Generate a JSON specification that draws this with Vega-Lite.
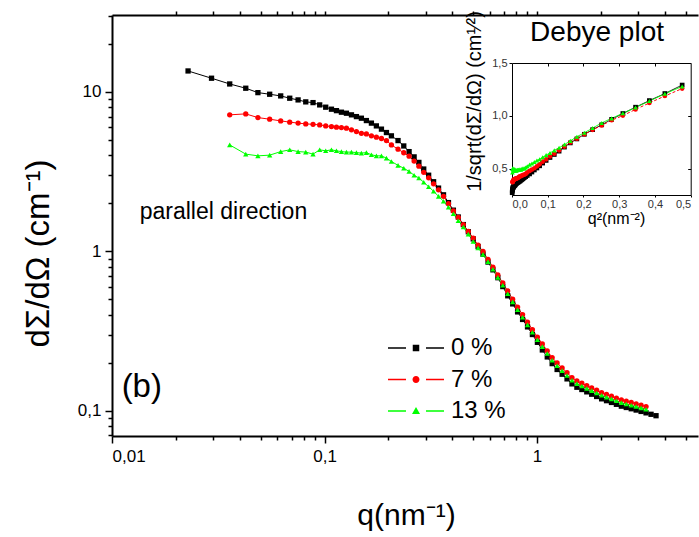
{
"$schema": "https://vega.github.io/schema/vega-lite/v6.json",
"width": 586, "height": 421,
"autosize": "none",
"padding": {"left": 112, "top": 15, "right": 1, "bottom": 101},
"background": "white",
"config": {"view": {"stroke": null}, "font": "Liberation Sans",
 "axis": {"grid": false, "domainColor": "black", "tickColor": "black", "labelColor": "black", "titleColor": "black", "labelFont": "Liberation Sans", "titleFont": "Liberation Sans", "titleFontWeight": "normal"},
 "legend": {"labelFont": "Liberation Sans", "orient": "none", "title": null, "labelFontSize": 24, "labelColor": "black", "labelOffset": 23, "symbolSize": 100, "symbolStrokeWidth": 0, "padding": 0}},
"datasets": {
"main": [
{"c":"0 %","q":0.0228,"I":13.54},{"c":"0 %","q":0.0294,"I":12.19},{"c":"0 %","q":0.0358,"I":11.22},{"c":"0 %","q":0.0426,"I":10.55},{"c":"0 %","q":0.0486,"I":9.9},{"c":"0 %","q":0.0552,"I":9.67},{"c":"0 %","q":0.0622,"I":9.44},{"c":"0 %","q":0.0686,"I":9.13},{"c":"0 %","q":0.0751,"I":8.91},{"c":"0 %","q":0.0816,"I":8.66},{"c":"0 %","q":0.0883,"I":8.57},{"c":"0 %","q":0.0949,"I":8.29},{"c":"0 %","q":0.1013,"I":8.02},{"c":"0 %","q":0.1078,"I":7.79},{"c":"0 %","q":0.1138,"I":7.63},{"c":"0 %","q":0.1201,"I":7.46},{"c":"0 %","q":0.1268,"I":7.35},{"c":"0 %","q":0.1339,"I":7.18},{"c":"0 %","q":0.1413,"I":7.0},{"c":"0 %","q":0.1491,"I":6.84},{"c":"0 %","q":0.1574,"I":6.61},{"c":"0 %","q":0.1662,"I":6.37},{"c":"0 %","q":0.1754,"I":6.12},{"c":"0 %","q":0.1853,"I":5.84},{"c":"0 %","q":0.1956,"I":5.56},{"c":"0 %","q":0.2064,"I":5.3},{"c":"0 %","q":0.2218,"I":4.95},{"c":"0 %","q":0.236,"I":4.58},{"c":"0 %","q":0.25,"I":4.22},{"c":"0 %","q":0.264,"I":3.91},{"c":"0 %","q":0.278,"I":3.61},{"c":"0 %","q":0.293,"I":3.28},{"c":"0 %","q":0.309,"I":3.0},{"c":"0 %","q":0.326,"I":2.73},{"c":"0 %","q":0.344,"I":2.49},{"c":"0 %","q":0.363,"I":2.26},{"c":"0 %","q":0.383,"I":2.02},{"c":"0 %","q":0.404,"I":1.81},{"c":"0 %","q":0.426,"I":1.64},{"c":"0 %","q":0.45,"I":1.47},{"c":"0 %","q":0.475,"I":1.325},{"c":"0 %","q":0.501,"I":1.195},{"c":"0 %","q":0.528,"I":1.07},{"c":"0 %","q":0.557,"I":0.958},{"c":"0 %","q":0.588,"I":0.855},{"c":"0 %","q":0.62,"I":0.764},{"c":"0 %","q":0.654,"I":0.682},{"c":"0 %","q":0.69,"I":0.6},{"c":"0 %","q":0.728,"I":0.525},{"c":"0 %","q":0.768,"I":0.467},{"c":"0 %","q":0.81,"I":0.416},{"c":"0 %","q":0.855,"I":0.373},{"c":"0 %","q":0.902,"I":0.335},{"c":"0 %","q":0.951,"I":0.3},{"c":"0 %","q":1.004,"I":0.268},{"c":"0 %","q":1.059,"I":0.24},{"c":"0 %","q":1.117,"I":0.217},{"c":"0 %","q":1.178,"I":0.197},{"c":"0 %","q":1.243,"I":0.181},{"c":"0 %","q":1.312,"I":0.169},{"c":"0 %","q":1.384,"I":0.158},{"c":"0 %","q":1.46,"I":0.147},{"c":"0 %","q":1.54,"I":0.14},{"c":"0 %","q":1.625,"I":0.1355},{"c":"0 %","q":1.714,"I":0.131},{"c":"0 %","q":1.808,"I":0.1266},{"c":"0 %","q":1.908,"I":0.1225},{"c":"0 %","q":2.013,"I":0.1184},{"c":"0 %","q":2.123,"I":0.1153},{"c":"0 %","q":2.24,"I":0.1124},{"c":"0 %","q":2.363,"I":0.1094},{"c":"0 %","q":2.493,"I":0.1065},{"c":"0 %","q":2.63,"I":0.1045},{"c":"0 %","q":2.775,"I":0.1026},{"c":"0 %","q":2.927,"I":0.1007},{"c":"0 %","q":3.088,"I":0.0987},{"c":"0 %","q":3.258,"I":0.0967},{"c":"0 %","q":3.44,"I":0.0947},{"c":"0 %","q":3.63,"I":0.0928},
{"c":"7 %","q":0.0358,"I":7.18},{"c":"7 %","q":0.0426,"I":7.28},{"c":"7 %","q":0.0486,"I":6.9},{"c":"7 %","q":0.0552,"I":6.74},{"c":"7 %","q":0.0622,"I":6.58},{"c":"7 %","q":0.0686,"I":6.46},{"c":"7 %","q":0.0751,"I":6.37},{"c":"7 %","q":0.0816,"I":6.3},{"c":"7 %","q":0.0883,"I":6.26},{"c":"7 %","q":0.0949,"I":6.21},{"c":"7 %","q":0.1013,"I":6.12},{"c":"7 %","q":0.1078,"I":6.06},{"c":"7 %","q":0.1138,"I":6.01},{"c":"7 %","q":0.1201,"I":5.97},{"c":"7 %","q":0.1268,"I":5.92},{"c":"7 %","q":0.1339,"I":5.78},{"c":"7 %","q":0.1413,"I":5.64},{"c":"7 %","q":0.1491,"I":5.5},{"c":"7 %","q":0.1574,"I":5.45},{"c":"7 %","q":0.1662,"I":5.3},{"c":"7 %","q":0.1754,"I":5.2},{"c":"7 %","q":0.1853,"I":5.1},{"c":"7 %","q":0.1956,"I":4.95},{"c":"7 %","q":0.2064,"I":4.65},{"c":"7 %","q":0.2218,"I":4.37},{"c":"7 %","q":0.236,"I":4.15},{"c":"7 %","q":0.25,"I":3.95},{"c":"7 %","q":0.264,"I":3.68},{"c":"7 %","q":0.278,"I":3.42},{"c":"7 %","q":0.293,"I":3.13},{"c":"7 %","q":0.309,"I":2.89},{"c":"7 %","q":0.326,"I":2.65},{"c":"7 %","q":0.344,"I":2.43},{"c":"7 %","q":0.363,"I":2.21},{"c":"7 %","q":0.383,"I":1.99},{"c":"7 %","q":0.404,"I":1.79},{"c":"7 %","q":0.426,"I":1.63},{"c":"7 %","q":0.45,"I":1.47},{"c":"7 %","q":0.475,"I":1.33},{"c":"7 %","q":0.501,"I":1.21},{"c":"7 %","q":0.528,"I":1.09},{"c":"7 %","q":0.557,"I":0.996},{"c":"7 %","q":0.588,"I":0.889},{"c":"7 %","q":0.62,"I":0.795},{"c":"7 %","q":0.654,"I":0.709},{"c":"7 %","q":0.69,"I":0.632},{"c":"7 %","q":0.728,"I":0.563},{"c":"7 %","q":0.768,"I":0.5},{"c":"7 %","q":0.81,"I":0.446},{"c":"7 %","q":0.855,"I":0.4},{"c":"7 %","q":0.902,"I":0.359},{"c":"7 %","q":0.951,"I":0.322},{"c":"7 %","q":1.004,"I":0.289},{"c":"7 %","q":1.059,"I":0.262},{"c":"7 %","q":1.117,"I":0.237},{"c":"7 %","q":1.178,"I":0.215},{"c":"7 %","q":1.243,"I":0.199},{"c":"7 %","q":1.312,"I":0.185},{"c":"7 %","q":1.384,"I":0.173},{"c":"7 %","q":1.46,"I":0.161},{"c":"7 %","q":1.54,"I":0.1534},{"c":"7 %","q":1.625,"I":0.1483},{"c":"7 %","q":1.714,"I":0.1433},{"c":"7 %","q":1.808,"I":0.1386},{"c":"7 %","q":1.908,"I":0.1341},{"c":"7 %","q":2.013,"I":0.1296},{"c":"7 %","q":2.123,"I":0.1263},{"c":"7 %","q":2.24,"I":0.123},{"c":"7 %","q":2.363,"I":0.1198},{"c":"7 %","q":2.493,"I":0.1166},{"c":"7 %","q":2.63,"I":0.1144},{"c":"7 %","q":2.775,"I":0.1123},{"c":"7 %","q":2.927,"I":0.1102},{"c":"7 %","q":3.088,"I":0.1081},{"c":"7 %","q":3.258,"I":0.1059},
{"c":"13 %","q":0.0358,"I":4.65},{"c":"13 %","q":0.0426,"I":4.07},{"c":"13 %","q":0.0486,"I":3.97},{"c":"13 %","q":0.0552,"I":4.01},{"c":"13 %","q":0.0622,"I":4.22},{"c":"13 %","q":0.0686,"I":4.33},{"c":"13 %","q":0.0751,"I":4.22},{"c":"13 %","q":0.0816,"I":4.19},{"c":"13 %","q":0.0883,"I":4.07},{"c":"13 %","q":0.0949,"I":4.33},{"c":"13 %","q":0.1013,"I":4.27},{"c":"13 %","q":0.1078,"I":4.33},{"c":"13 %","q":0.1138,"I":4.27},{"c":"13 %","q":0.1201,"I":4.22},{"c":"13 %","q":0.1268,"I":4.19},{"c":"13 %","q":0.1339,"I":4.19},{"c":"13 %","q":0.1413,"I":4.16},{"c":"13 %","q":0.1491,"I":4.13},{"c":"13 %","q":0.1574,"I":4.16},{"c":"13 %","q":0.1662,"I":4.03},{"c":"13 %","q":0.1754,"I":3.97},{"c":"13 %","q":0.1853,"I":3.97},{"c":"13 %","q":0.1956,"I":3.84},{"c":"13 %","q":0.2064,"I":3.66},{"c":"13 %","q":0.2218,"I":3.46},{"c":"13 %","q":0.236,"I":3.32},{"c":"13 %","q":0.25,"I":3.17},{"c":"13 %","q":0.264,"I":3.0},{"c":"13 %","q":0.278,"I":2.88},{"c":"13 %","q":0.293,"I":2.71},{"c":"13 %","q":0.309,"I":2.54},{"c":"13 %","q":0.326,"I":2.38},{"c":"13 %","q":0.344,"I":2.21},{"c":"13 %","q":0.363,"I":2.06},{"c":"13 %","q":0.383,"I":1.89},{"c":"13 %","q":0.404,"I":1.72},{"c":"13 %","q":0.426,"I":1.555},{"c":"13 %","q":0.45,"I":1.42},{"c":"13 %","q":0.475,"I":1.28},{"c":"13 %","q":0.501,"I":1.15},{"c":"13 %","q":0.528,"I":1.05},{"c":"13 %","q":0.557,"I":0.955},{"c":"13 %","q":0.588,"I":0.86},{"c":"13 %","q":0.62,"I":0.77},{"c":"13 %","q":0.654,"I":0.685},{"c":"13 %","q":0.69,"I":0.612},{"c":"13 %","q":0.728,"I":0.541},{"c":"13 %","q":0.768,"I":0.481},{"c":"13 %","q":0.81,"I":0.429},{"c":"13 %","q":0.855,"I":0.385},{"c":"13 %","q":0.902,"I":0.345},{"c":"13 %","q":0.951,"I":0.31},{"c":"13 %","q":1.004,"I":0.278},{"c":"13 %","q":1.059,"I":0.252},{"c":"13 %","q":1.117,"I":0.228},{"c":"13 %","q":1.178,"I":0.207},{"c":"13 %","q":1.243,"I":0.191},{"c":"13 %","q":1.312,"I":0.178},{"c":"13 %","q":1.384,"I":0.166},{"c":"13 %","q":1.46,"I":0.155},{"c":"13 %","q":1.54,"I":0.1475},{"c":"13 %","q":1.625,"I":0.1426},{"c":"13 %","q":1.714,"I":0.1378},{"c":"13 %","q":1.808,"I":0.1333},{"c":"13 %","q":1.908,"I":0.1289},{"c":"13 %","q":2.013,"I":0.1246},{"c":"13 %","q":2.123,"I":0.1214},{"c":"13 %","q":2.24,"I":0.1183},{"c":"13 %","q":2.363,"I":0.1152},{"c":"13 %","q":2.493,"I":0.1121},{"c":"13 %","q":2.63,"I":0.11},{"c":"13 %","q":2.775,"I":0.108},{"c":"13 %","q":2.927,"I":0.106},{"c":"13 %","q":3.088,"I":0.1039},{"c":"13 %","q":3.258,"I":0.1018}
],
"debye": [
{"c":"0 %","x":0.00052,"y":0.2718},{"c":"0 %","x":0.00086,"y":0.2864},{"c":"0 %","x":0.00128,"y":0.2985},{"c":"0 %","x":0.00181,"y":0.3079},{"c":"0 %","x":0.00236,"y":0.3178},{"c":"0 %","x":0.00305,"y":0.3216},{"c":"0 %","x":0.00387,"y":0.3255},{"c":"0 %","x":0.00471,"y":0.3309},{"c":"0 %","x":0.00564,"y":0.335},{"c":"0 %","x":0.00666,"y":0.3398},{"c":"0 %","x":0.0078,"y":0.3416},{"c":"0 %","x":0.009,"y":0.3473},{"c":"0 %","x":0.01026,"y":0.3531},{"c":"0 %","x":0.01162,"y":0.3583},{"c":"0 %","x":0.01295,"y":0.362},{"c":"0 %","x":0.01442,"y":0.3661},{"c":"0 %","x":0.01608,"y":0.3689},{"c":"0 %","x":0.01793,"y":0.3732},{"c":"0 %","x":0.01997,"y":0.378},{"c":"0 %","x":0.02223,"y":0.3824},{"c":"0 %","x":0.02477,"y":0.389},{"c":"0 %","x":0.02762,"y":0.3962},{"c":"0 %","x":0.03077,"y":0.4042},{"c":"0 %","x":0.03434,"y":0.4138},{"c":"0 %","x":0.03826,"y":0.4241},{"c":"0 %","x":0.0426,"y":0.4344},{"c":"0 %","x":0.0492,"y":0.4495},{"c":"0 %","x":0.0557,"y":0.4673},{"c":"0 %","x":0.0625,"y":0.4868},{"c":"0 %","x":0.0697,"y":0.5057},{"c":"0 %","x":0.0773,"y":0.5263},{"c":"0 %","x":0.0858,"y":0.5522},{"c":"0 %","x":0.0955,"y":0.5774},{"c":"0 %","x":0.1063,"y":0.6052},{"c":"0 %","x":0.1183,"y":0.6337},{"c":"0 %","x":0.1318,"y":0.6652},{"c":"0 %","x":0.1467,"y":0.7036},{"c":"0 %","x":0.1632,"y":0.7433},{"c":"0 %","x":0.1815,"y":0.7809},{"c":"0 %","x":0.2025,"y":0.8248},{"c":"0 %","x":0.2256,"y":0.8687},{"c":"0 %","x":0.251,"y":0.9148},{"c":"0 %","x":0.2788,"y":0.9667},{"c":"0 %","x":0.3102,"y":1.0217},{"c":"0 %","x":0.3457,"y":1.0815},{"c":"0 %","x":0.3844,"y":1.1441},{"c":"0 %","x":0.4277,"y":1.2109},{"c":"0 %","x":0.4761,"y":1.291},
{"c":"7 %","x":0.00128,"y":0.3732},{"c":"7 %","x":0.00181,"y":0.3706},{"c":"7 %","x":0.00236,"y":0.3807},{"c":"7 %","x":0.00305,"y":0.3852},{"c":"7 %","x":0.00387,"y":0.3898},{"c":"7 %","x":0.00471,"y":0.3934},{"c":"7 %","x":0.00564,"y":0.3962},{"c":"7 %","x":0.00666,"y":0.3984},{"c":"7 %","x":0.0078,"y":0.3997},{"c":"7 %","x":0.009,"y":0.4013},{"c":"7 %","x":0.01026,"y":0.4042},{"c":"7 %","x":0.01162,"y":0.4062},{"c":"7 %","x":0.01295,"y":0.4079},{"c":"7 %","x":0.01442,"y":0.4093},{"c":"7 %","x":0.01608,"y":0.411},{"c":"7 %","x":0.01793,"y":0.4159},{"c":"7 %","x":0.01997,"y":0.4211},{"c":"7 %","x":0.02223,"y":0.4264},{"c":"7 %","x":0.02477,"y":0.4283},{"c":"7 %","x":0.02762,"y":0.4344},{"c":"7 %","x":0.03077,"y":0.4385},{"c":"7 %","x":0.03434,"y":0.4428},{"c":"7 %","x":0.03826,"y":0.4495},{"c":"7 %","x":0.0426,"y":0.4637},{"c":"7 %","x":0.0492,"y":0.4784},{"c":"7 %","x":0.0557,"y":0.4909},{"c":"7 %","x":0.0625,"y":0.5032},{"c":"7 %","x":0.0697,"y":0.5213},{"c":"7 %","x":0.0773,"y":0.5407},{"c":"7 %","x":0.0858,"y":0.5652},{"c":"7 %","x":0.0955,"y":0.5882},{"c":"7 %","x":0.1063,"y":0.6143},{"c":"7 %","x":0.1183,"y":0.6415},{"c":"7 %","x":0.1318,"y":0.6727},{"c":"7 %","x":0.1467,"y":0.7089},{"c":"7 %","x":0.1632,"y":0.7474},{"c":"7 %","x":0.1815,"y":0.7833},{"c":"7 %","x":0.2025,"y":0.8248},{"c":"7 %","x":0.2256,"y":0.8671},{"c":"7 %","x":0.251,"y":0.9091},{"c":"7 %","x":0.2788,"y":0.9578},{"c":"7 %","x":0.3102,"y":1.002},{"c":"7 %","x":0.3457,"y":1.0606},{"c":"7 %","x":0.3844,"y":1.1215},{"c":"7 %","x":0.4277,"y":1.1876},{"c":"7 %","x":0.4761,"y":1.2579},
{"c":"13 %","x":0.00128,"y":0.4637},{"c":"13 %","x":0.00181,"y":0.4957},{"c":"13 %","x":0.00236,"y":0.5019},{"c":"13 %","x":0.00305,"y":0.4994},{"c":"13 %","x":0.00387,"y":0.4868},{"c":"13 %","x":0.00471,"y":0.4806},{"c":"13 %","x":0.00564,"y":0.4868},{"c":"13 %","x":0.00666,"y":0.4885},{"c":"13 %","x":0.0078,"y":0.4957},{"c":"13 %","x":0.009,"y":0.4806},{"c":"13 %","x":0.01026,"y":0.4839},{"c":"13 %","x":0.01162,"y":0.4806},{"c":"13 %","x":0.01295,"y":0.4839},{"c":"13 %","x":0.01442,"y":0.4868},{"c":"13 %","x":0.01608,"y":0.4885},{"c":"13 %","x":0.01793,"y":0.4885},{"c":"13 %","x":0.01997,"y":0.4903},{"c":"13 %","x":0.02223,"y":0.4921},{"c":"13 %","x":0.02477,"y":0.4903},{"c":"13 %","x":0.02762,"y":0.4981},{"c":"13 %","x":0.03077,"y":0.5019},{"c":"13 %","x":0.03434,"y":0.5019},{"c":"13 %","x":0.03826,"y":0.5103},{"c":"13 %","x":0.0426,"y":0.5227},{"c":"13 %","x":0.0492,"y":0.5376},{"c":"13 %","x":0.0557,"y":0.5488},{"c":"13 %","x":0.0625,"y":0.5617},{"c":"13 %","x":0.0697,"y":0.5774},{"c":"13 %","x":0.0773,"y":0.5893},{"c":"13 %","x":0.0858,"y":0.6075},{"c":"13 %","x":0.0955,"y":0.6275},{"c":"13 %","x":0.1063,"y":0.6482},{"c":"13 %","x":0.1183,"y":0.6727},{"c":"13 %","x":0.1318,"y":0.6967},{"c":"13 %","x":0.1467,"y":0.7274},{"c":"13 %","x":0.1632,"y":0.7625},{"c":"13 %","x":0.1815,"y":0.8019},{"c":"13 %","x":0.2025,"y":0.8392},{"c":"13 %","x":0.2256,"y":0.8839},{"c":"13 %","x":0.251,"y":0.9325},{"c":"13 %","x":0.2788,"y":0.9759},{"c":"13 %","x":0.3102,"y":1.0233},{"c":"13 %","x":0.3457,"y":1.0783},{"c":"13 %","x":0.3844,"y":1.1396},{"c":"13 %","x":0.4277,"y":1.2082},{"c":"13 %","x":0.4761,"y":1.2783}
]
},
"layer": [
{
 "data": {"name": "main"},
 "layer": [
  {"mark": {"type": "line", "strokeWidth": 1},
   "encoding": {
    "x": {"field": "q", "type": "quantitative", "scale": {"type": "log", "domain": [0.01, 5.72], "nice": false},
      "axis": {"orient": "bottom", "values": [0.01, 0.1, 1], "labelExpr": "replace(toString(datum.value), '.', ',')", "tickSize": 7, "tickWidth": 1.5, "domainWidth": 2, "labelFontSize": 17, "labelPadding": 5, "title": "q(nm⁻¹)", "titleFontSize": 30, "titleX": 294, "titleY": 79, "titleBaseline": "middle", "titleAlign": "center"}},
    "y": {"field": "I", "type": "quantitative", "scale": {"type": "log", "domain": [0.0692, 30.4], "nice": false},
      "axis": {"orient": "left", "values": [0.1, 1, 10], "labelExpr": "replace(toString(datum.value), '.', ',')", "tickSize": 7, "tickWidth": 1.5, "domainWidth": 2, "labelFontSize": 17, "labelPadding": 4, "title": "dΣ/dΩ (cm⁻¹)", "titleFontSize": 33, "titleAngle": -90, "titleX": -74, "titleY": 238, "titleBaseline": "middle", "titleAlign": "center"}},
    "color": {"field": "c", "type": "nominal", "scale": {"domain": ["0 %", "7 %", "13 %"], "range": ["#000000", "#ff0000", "#00ff00"]}, "legend": null}
   }},
  {"mark": {"type": "point", "filled": true, "opacity": 1, "size": 28},
   "encoding": {
    "x": {"field": "q", "type": "quantitative",
      "axis": {"orient": "bottom", "values": [0.02,0.03,0.04,0.05,0.06,0.07,0.08,0.09,0.2,0.3,0.4,0.5,0.6,0.7,0.8,0.9,2,3,4,5], "labels": false, "domain": false, "tickSize": 4, "tickWidth": 1.5, "title": null}},
    "y": {"field": "I", "type": "quantitative",
      "axis": {"orient": "left", "values": [0.07,0.08,0.09,0.2,0.3,0.4,0.5,0.6,0.7,0.8,0.9,2,3,4,5,6,7,8,9,20,30], "labels": false, "domain": false, "tickSize": 4, "tickWidth": 1.5, "title": null}},
    "color": {"field": "c", "type": "nominal", "legend": null},
    "shape": {"field": "c", "type": "nominal", "scale": {"domain": ["0 %", "7 %", "13 %"], "range": ["square", "circle", "triangle-up"]}, "legend": null}
   }},
  {"data": {"values": [{}]},
   "mark": {"type": "text", "text": "parallel direction", "align": "left", "baseline": "middle", "fontSize": 23, "font": "Liberation Sans", "color": "black"},
   "encoding": {
    "x": {"datum": 0.0135, "axis": {"orient": "top", "values": [0.02,0.03,0.04,0.05,0.06,0.07,0.08,0.09,0.1,0.2,0.3,0.4,0.5,0.6,0.7,0.8,0.9,1,2,3,4,5], "labels": false, "tickSize": 4, "tickWidth": 1.5, "domainWidth": 2, "title": null}},
    "y": {"datum": 1.77, "axis": null}
   }},
  {"data": {"values": [{}]},
   "mark": {"type": "text", "text": "(b)", "align": "left", "baseline": "middle", "fontSize": 33, "font": "Liberation Sans", "color": "black"},
   "encoding": {
    "x": {"datum": 0.0111, "axis": null},
    "y": {"datum": 0.1414, "axis": null}
   }}
 ],
 "resolve": {"axis": {"x": "independent", "y": "independent"}}
},
{
 "data": {"name": "debye"},
 "layer": [
  {"mark": {"type": "line", "strokeWidth": 1},
   "encoding": {
    "x": {"field": "x", "type": "quantitative", "scale": {"domain": [0, 0.5], "range": [400, 578.7], "nice": false, "zero": false},
      "axis": {"orient": "bottom", "offset": -241, "values": [0, 0.1, 0.2, 0.3, 0.4, 0.5], "labelExpr": "replace(format(datum.value, '.1f'), '.', ',')", "tickSize": 2, "tickWidth": 1, "domainWidth": 1, "labelFontSize": 11, "labelColor": "#333333", "labelPadding": 1, "title": "q²(nm⁻²)", "titleFontSize": 16, "titleX": 504, "titleY": 23, "titleBaseline": "middle", "titleAlign": "center"}},
    "y": {"field": "y", "type": "quantitative", "scale": {"domain": [0.25, 1.5], "range": [180, 48], "nice": false, "zero": false},
      "axis": {"orient": "left", "offset": -400, "values": [0.5, 1, 1.5], "labelExpr": "replace(format(datum.value, '.1f'), '.', ',')", "tickSize": 3, "tickWidth": 1, "domainWidth": 1, "labelFontSize": 11, "labelColor": "#333333", "labelPadding": 2, "title": "1/sqrt(dΣ/dΩ) (cm¹⁄²)", "titleFontSize": 20, "titleAngle": -90, "titleX": -38, "titleY": 86, "titleBaseline": "middle", "titleAlign": "center"}},
    "color": {"field": "c", "type": "nominal", "legend": null},
    "strokeDash": {"field": "c", "type": "nominal", "scale": {"domain": ["0 %", "7 %", "13 %"], "range": [[1, 0], [3, 2], [1, 0]]}, "legend": null}
   }},
  {"mark": {"type": "point", "filled": true, "opacity": 1, "size": 22},
   "encoding": {
    "x": {"field": "x", "type": "quantitative",
      "axis": {"orient": "top", "offset": -48, "values": [0.1, 0.2, 0.3, 0.4], "labels": false, "tickSize": -3, "tickWidth": 1, "domainWidth": 1, "title": null}},
    "y": {"field": "y", "type": "quantitative",
      "axis": {"orient": "right", "offset": -7.3, "values": [0.5, 1, 1.5], "labels": false, "tickSize": -3, "tickWidth": 1, "domainWidth": 1, "title": null}},
    "color": {"field": "c", "type": "nominal", "legend": null},
    "shape": {"field": "c", "type": "nominal", "scale": {"domain": ["0 %", "7 %", "13 %"], "range": ["square", "circle", "triangle-up"]}, "legend": null}
   }},
  {"data": {"values": [{}]},
   "mark": {"type": "text", "text": "Debye plot", "align": "center", "baseline": "middle", "fontSize": 28, "font": "Liberation Sans", "color": "black"},
   "encoding": {
    "x": {"datum": 0.238, "axis": null},
    "y": {"datum": 1.784, "axis": null}
   }}
 ],
 "resolve": {"axis": {"x": "independent", "y": "independent"}}
},
{
 "data": {"name": "main"},
 "transform": [{"filter": "false"}],
 "mark": {"type": "point", "filled": true, "size": 100, "opacity": 1, "color": "#000000"},
 "encoding": {
  "shape": {"field": "c", "type": "nominal", "scale": {"domain": ["0 %"], "range": ["M-5.6,-0.15H-2V0.15H-5.6Z M2,-0.15H5.6V0.15H2Z M-0.65,-0.65H0.65V0.65H-0.65Z"]},
    "legend": {"legendX": 292, "legendY": 321}}
 }
},
{
 "data": {"name": "main"},
 "transform": [{"filter": "false"}],
 "mark": {"type": "point", "filled": true, "size": 100, "opacity": 1, "color": "#ff0000"},
 "encoding": {
  "shape": {"field": "c", "type": "nominal", "scale": {"domain": ["7 %"], "range": ["M-5.6,-0.15H-2V0.15H-5.6Z M2,-0.15H5.6V0.15H2Z M-0.7,0A0.7,0.7 0 1,0 0.7,0A0.7,0.7 0 1,0 -0.7,0Z"]},
    "legend": {"legendX": 292, "legendY": 352.5}}
 }
},
{
 "data": {"name": "main"},
 "transform": [{"filter": "false"}],
 "mark": {"type": "point", "filled": true, "size": 100, "opacity": 1, "color": "#00ff00"},
 "encoding": {
  "shape": {"field": "c", "type": "nominal", "scale": {"domain": ["13 %"], "range": ["M-5.6,-0.15H-2V0.15H-5.6Z M2,-0.15H5.6V0.15H2Z M-0.8,0.6L0.8,0.6L0,-0.8Z"]},
    "legend": {"legendX": 292, "legendY": 384}}
 }
}
],
"resolve": {"scale": {"x": "independent", "y": "independent", "shape": "independent", "color": "shared"}}
}
